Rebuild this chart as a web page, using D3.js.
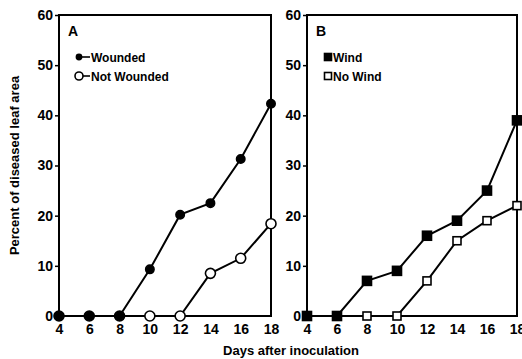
<!DOCTYPE html>
<html>
<head>
<meta charset="utf-8">
<script src="https://cdn.jsdelivr.net/npm/d3@7"></script>
<style>
  body { margin: 0; background: #fff; }
  text { font-family: "Liberation Sans", Arial, sans-serif; font-weight: bold; }
</style>
</head>
<body>
<div id="chart"></div>
<script>
var days = [4, 6, 8, 10, 12, 14, 16, 18];
var yTicks = [0, 10, 20, 30, 40, 50, 60];

var wounded = [0, 0, 0, 9.3, 20.2, 22.5, 31.3, 42.3];
var notWounded = [0, 0, 0, 0, 0, 8.5, 11.5, 18.4];
var wind = [0, 0, 7, 9, 16, 19, 25, 39];
var noWind = [0, 0, 0, 0, 7, 15, 19, 22];

var svgWidth = 522, svgHeight = 359;
var plotTop = 15, plotBottom = 316;

var svg = d3.select('#chart').append('svg')
    .attr('width', svgWidth)
    .attr('height', svgHeight);

var yScale = d3.scaleLinear().domain([0, 60]).range([plotBottom, plotTop]);

var panels = [
    { left: 59, right: 271, label: 'A', shape: 'circle',
      series: [
        { name: 'Not Wounded', values: notWounded, filled: false },
        { name: 'Wounded', values: wounded, filled: true }
      ],
      legend: ['Wounded', 'Not Wounded'], markX: 79, textX: 91 },
    { left: 307, right: 517, label: 'B', shape: 'square',
      series: [
        { name: 'No Wind', values: noWind, filled: false },
        { name: 'Wind', values: wind, filled: true }
      ],
      legend: ['Wind', 'No Wind'], markX: 328, textX: 333 }
];

function drawMarker(g, shape, filled, x, y, small) {
    if (shape === 'circle') {
        var r = filled ? 4.2 : 5;
        if (small) r = filled ? 2.6 : 4;
        g.append('circle')
            .attr('cx', x).attr('cy', y)
            .attr('r', r)
            .attr('fill', filled ? '#000' : '#fff')
            .attr('stroke', '#000')
            .attr('stroke-width', 1.6);
    } else {
        var s = filled ? 9 : 8;
        if (small) s = 7;
        g.append('rect')
            .attr('x', x - s / 2).attr('y', y - s / 2)
            .attr('width', s).attr('height', s)
            .attr('fill', filled ? '#000' : '#fff')
            .attr('stroke', '#000')
            .attr('stroke-width', 1.6);
    }
}

panels.forEach(function (p) {
    var xScale = d3.scaleLinear().domain([4, 18]).range([p.left, p.right]);
    var g = svg.append('g');

    // frame
    g.append('rect')
        .attr('x', p.left).attr('y', plotTop)
        .attr('width', p.right - p.left).attr('height', plotBottom - plotTop)
        .attr('fill', 'none')
        .attr('stroke', '#000')
        .attr('stroke-width', 2);

    // y axis
    var yAxis = d3.axisLeft(yScale).tickValues(yTicks).tickSize(4).tickPadding(2);
    var ya = g.append('g')
        .attr('transform', 'translate(' + p.left + ',0)')
        .call(yAxis);
    ya.select('.domain').remove();
    ya.selectAll('line').attr('stroke-width', 1.5);
    ya.selectAll('text').style('font-size', '14px').attr('fill', '#000');

    // x axis
    var xAxis = d3.axisBottom(xScale).tickValues(days).tickSize(0).tickPadding(8);
    var xa = g.append('g')
        .attr('transform', 'translate(0,' + plotBottom + ')')
        .call(xAxis);
    xa.select('.domain').remove();
    xa.selectAll('text').style('font-size', '14px').attr('fill', '#000');

    // lines and markers
    var line = d3.line()
        .x(function (d, i) { return xScale(days[i]); })
        .y(function (d) { return yScale(d); });

    p.series.forEach(function (s) {
        g.append('path')
            .datum(s.values)
            .attr('d', line)
            .attr('fill', 'none')
            .attr('stroke', '#000')
            .attr('stroke-width', 2);
    });
    p.series.forEach(function (s) {
        s.values.forEach(function (v, i) {
            drawMarker(g, p.shape, s.filled, xScale(days[i]), yScale(v), false);
        });
    });

    // panel label
    g.append('text')
        .attr('x', p.left + 9).attr('y', plotTop + 21)
        .style('font-size', '14px')
        .text(p.label);

    // legend
    p.legend.forEach(function (name, k) {
        var s = p.series.filter(function (d) { return d.name === name; })[0];
        var ly = 57 + k * 19;
        g.append('line')
            .attr('x1', p.markX - 3).attr('x2', p.textX - 1)
            .attr('y1', ly).attr('y2', ly)
            .attr('stroke', '#000').attr('stroke-width', 1.6);
        drawMarker(g, p.shape, s.filled, p.markX, ly, true);
        g.append('text')
            .attr('x', p.textX).attr('y', ly + 4.5)
            .style('font-size', '12px')
            .text(name);
    });
});

// axis titles
svg.append('text')
    .attr('transform', 'translate(19,' + ((plotTop + plotBottom) / 2) + ') rotate(-90)')
    .attr('text-anchor', 'middle')
    .style('font-size', '13px')
    .text('Percent of diseased leaf area');

svg.append('text')
    .attr('x', 291).attr('y', 355)
    .attr('text-anchor', 'middle')
    .style('font-size', '13px')
    .text('Days after inoculation');
</script>
</body>
</html>
